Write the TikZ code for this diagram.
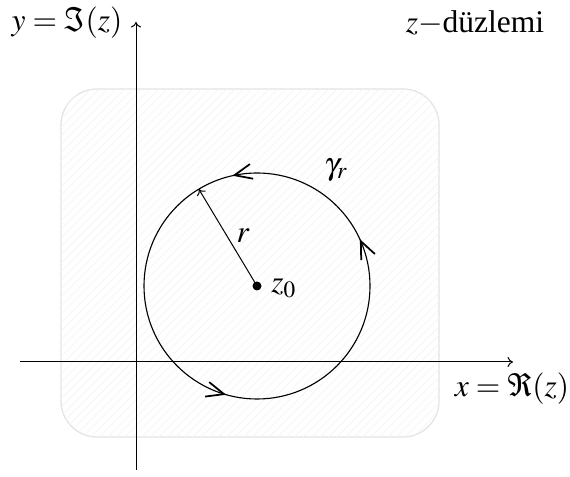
\documentclass[tikz,border=0pt]{standalone}
\usepackage{mathptmx}
\usepackage{fontspec}
\setmainfont{Liberation Serif}
\usetikzlibrary{arrows.meta,decorations.markings,patterns.meta}
\begin{document}
\begin{tikzpicture}[x=0.4pt,y=0.4pt,
  every node/.style={font=\fontsize{12.6}{15}\selectfont, inner sep=0pt},
  axis/.style={line width=0.4pt,-{To[length=2.2pt,width=4pt]}},
  region/.style={draw=gray!22, line width=0.5pt, fill=white, rounded corners=14.4pt},
  hatch/.style={pattern={Lines[angle=45,distance=2.4pt,line width=0.3pt]}, pattern color=gray!7},
  contour/.style={line width=0.45pt, postaction={decorate}, decoration={markings,
    mark=at position 0.068 with {\arrow{Straight Barb[length=7pt,width=6pt,line width=0.7pt]}},
    mark=at position 0.285 with {\arrow{Straight Barb[length=7pt,width=6pt,line width=0.7pt]}},
    mark=at position 0.706 with {\arrow{Straight Barb[length=7pt,width=6pt,line width=0.7pt]}}}}
]
\useasboundingbox (0,0) rectangle (570,477);
% region
\draw[region] (61,40) rectangle (439,388);
\fill[hatch, rounded corners=14.4pt] (61,40) rectangle (439,388);
% axes
\coordinate (ybot) at (136,7);
\coordinate (ytop) at (136,455);
\coordinate (xl) at (20,115);
\coordinate (xr) at (513,115);
\draw[axis] (ybot) -- (ytop);
\draw[axis] (xl) -- (xr);
% circle
\coordinate (c) at (257,191);
\draw[contour] ([shift={(0:113)}]c) arc[start angle=0,end angle=360,radius=113];
\coordinate (rend) at ([shift={(121:113)}]c);
\draw[line width=0.4pt,-{To[length=2.2pt,width=4pt]}] (c) -- (rend);
\fill (c) circle (4.5);
% labels
\node (lim) at (67,454) {$y=\Im(z)$};
\node (lplane) at (475,454) {$z-$düzlemi};
\node (lre) at (512,88) {$x=\Re(z)$};
\node (lgam) at (336,307) {$\gamma_r$};
\node (lr) at (243,241) {$r$};
\node (lz) at (284,189) {$z_0$};
\end{tikzpicture}
\end{document}
